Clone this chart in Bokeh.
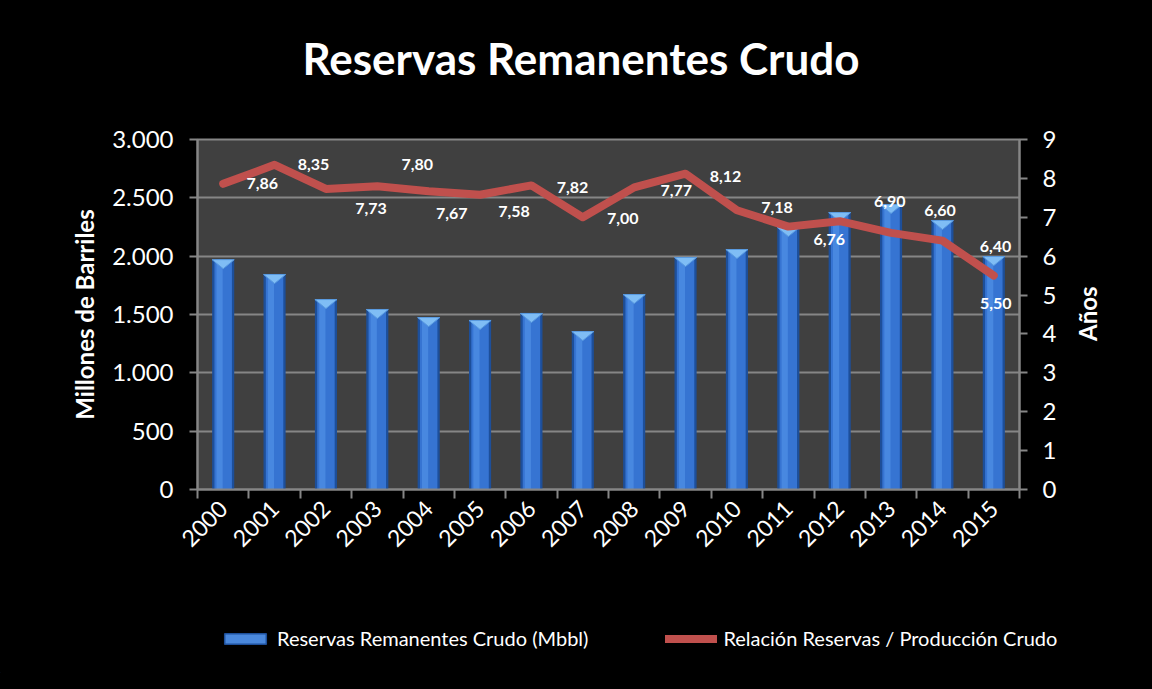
import math
from bokeh.plotting import figure
from bokeh.layouts import column, row
from bokeh.models import (Range1d, LinearAxis, FixedTicker, Legend, LegendItem,
                          ColumnDataSource, Label)
from bokeh.embed import file_html
from bokeh.resources import INLINE
from bokeh.core.properties import value

# ---------------- data ----------------
years = ["2000", "2001", "2002", "2003", "2004", "2005", "2006", "2007",
         "2008", "2009", "2010", "2011", "2012", "2013", "2014", "2015"]
reservas = [1970, 1843, 1628, 1543, 1474, 1449, 1509, 1354,
            1671, 1989, 2057, 2246, 2374, 2443, 2306, 1997]
relacion = [7.86, 8.35, 7.73, 7.80, 7.67, 7.58, 7.82, 7.00,
            7.77, 8.12, 7.18, 6.76, 6.90, 6.60, 6.40, 5.50]
relacion_labels = ["7,86", "8,35", "7,73", "7,80", "7,67", "7,58", "7,82", "7,00",
                   "7,77", "8,12", "7,18", "6,76", "6,90", "6,60", "6,40", "5,50"]
left_ticks = [0, 500, 1000, 1500, 2000, 2500, 3000]
left_tick_labels = ["0", "500", "1.000", "1.500", "2.000", "2.500", "3.000"]
right_ticks = [0, 1, 2, 3, 4, 5, 6, 7, 8, 9]
title_text = "Reservas Remanentes Crudo"
left_axis_title = "Millones de Barriles"
right_axis_title = "Años"
series_names = ["Reservas Remanentes Crudo (Mbbl)", "Relación Reservas / Producción Crudo"]

# label placement offsets (screen px)
lbl_dx = [39, 39, 45, 40, 23, 34, 41, 40, 42, 40, 40, 41, 50, 49, 53, 2]
lbl_dy = [0, 0, 20, -22, 22, 17, 2, 1, 3, 3, -3, 13, -20, -22, 6, 28]

FONT = "Lato"
GRAY = "#868686"
BAR_DARK = "#1d4f9a"
BAR_MID = "#3674d2"
LINE_RED = "#c0504d"
W = 1136
PW = 1059        # width of the main chart figure
RW = W - PW      # width of the strip holding the right axis title
MAIN_H = 480


def strip(width, height):
    f = figure(width=width, height=height, x_range=Range1d(0, 1), y_range=Range1d(0, 1),
               x_axis_location=None, y_axis_location=None, min_border=0,
               output_backend="svg", toolbar_location=None)
    f.frame_align = False
    f.background_fill_color = "black"
    f.border_fill_color = "black"
    f.outline_line_color = "black"
    f.outline_line_width = 2
    f.grid.visible = False
    return f


# ---------------- title strip ----------------
tfig = strip(W, 100)
tfig.add_layout(Label(x=0.511, y=0.43, text=title_text, text_align="center",
                      text_baseline="middle", text_color="white",
                      text_font=FONT, text_font_size="44px", text_font_style="bold"))

# ---------------- main chart ----------------
xs = list(range(len(years)))
src = ColumnDataSource(dict(x=xs, reservas=reservas, relacion=relacion,
                            lbl=relacion_labels, dx=lbl_dx, dy=lbl_dy,
                            xh=[i - 0.07 for i in xs]))

p = figure(width=PW, height=MAIN_H,
           min_border_left=197, min_border_right=37,
           min_border_top=39, min_border_bottom=91,
           x_range=Range1d(-0.5, len(years) - 0.5), y_range=Range1d(0, 3000),
           output_backend="svg", toolbar_location=None)
p.frame_align = False
p.extra_y_ranges = {"right": Range1d(0, 9)}

p.background_fill_color = "#404040"
p.border_fill_color = "black"
p.outline_line_color = GRAY
p.outline_line_width = 2

p.xgrid.visible = False
p.ygrid.ticker = FixedTicker(ticks=left_ticks)
p.ygrid.grid_line_color = GRAY
p.ygrid.grid_line_width = 2

# bars (layered for a cylinder look)
p.vbar(x="x", top="reservas", width=0.43, source=src,
       fill_color=BAR_DARK, line_color=None)
p.vbar(x="x", top="reservas", width=0.34, source=src,
       fill_color=BAR_MID, line_color=None)
p.vbar(x="xh", top="reservas", width=0.12, source=src,
       fill_color="#4d8de4", line_color=None, fill_alpha=0.8)
cap_h = 9 / (350 / 3000)
p.patches(xs=[[i - 0.215, i + 0.215, i] for i in xs],
          ys=[[v, v, v - cap_h] for v in reservas],
          fill_color="#7fbdf5", line_color="#5a9be0", line_width=1)

# line
p.line(x="x", y="relacion", source=src, y_range_name="right",
       line_color=LINE_RED, line_width=8, line_cap="round", line_join="round")

# data labels
p.text(x="x", y="relacion", text="lbl", source=src, y_range_name="right",
       x_offset="dx", y_offset="dy", text_align="center", text_baseline="middle",
       text_color="white", text_font=value(FONT), text_font_style="bold",
       text_font_size="16px")

ya = p.yaxis[0]
ya.ticker = FixedTicker(ticks=left_ticks)
ya.major_label_overrides = {t: l for t, l in zip(left_ticks, left_tick_labels)}
ya.axis_label = left_axis_title
ya.axis_label_text_color = "white"
ya.axis_label_text_font = FONT
ya.axis_label_text_font_size = "24px"
ya.axis_label_text_font_style = "bold"
ya.axis_label_standoff = 10

ra = LinearAxis(y_range_name="right", ticker=FixedTicker(ticks=right_ticks))
p.add_layout(ra, "right")

for ax in [ya, ra]:
    ax.axis_line_color = GRAY
    ax.axis_line_width = 2
    ax.major_tick_line_color = GRAY
    ax.major_tick_line_width = 2
    ax.major_tick_out = 8
    ax.major_tick_in = 0
    ax.minor_tick_line_color = None
    ax.major_label_text_color = "white"
    ax.major_label_text_font = FONT
    ax.major_label_text_font_size = "24px"
ya.major_label_standoff = 16
ra.major_label_standoff = 15

xa = p.xaxis[0]
xa.ticker = FixedTicker(ticks=xs, minor_ticks=[i - 0.5 for i in range(len(years) + 1)])
xa.major_label_overrides = {i: y for i, y in enumerate(years)}
xa.major_label_orientation = math.pi / 4
xa.major_tick_out = 0
xa.major_tick_in = 0
xa.minor_tick_out = 9
xa.minor_tick_in = 0
xa.minor_tick_line_color = GRAY
xa.minor_tick_line_width = 2
xa.axis_line_color = GRAY
xa.axis_line_width = 2
xa.major_label_text_color = "white"
xa.major_label_text_font = FONT
xa.major_label_text_font_size = "23px"
xa.major_label_standoff = 6

# right axis title strip (reads bottom-to-top)
rfig = strip(RW, MAIN_H)
rfig.add_layout(Label(x=28 / RW, y=0.556, text=right_axis_title, angle=math.pi / 2,
                      text_align="center", text_baseline="middle", text_color="white",
                      text_font=FONT, text_font_size="24px", text_font_style="bold"))

# ---------------- legend strip ----------------
lfig = strip(W, 93)
# off-screen sample glyphs, used only to draw the legend swatches
lb = lfig.vbar(x=[-5], top=[-5], width=0.5, fill_color="#4a88dc", line_color=BAR_DARK,
               line_width=1.5)
ll = lfig.line(x=[-5, -4], y=[-5, -5], line_color=LINE_RED, line_width=8, line_cap="round")
legend = Legend(items=[LegendItem(label=series_names[0], renderers=[lb]),
                       LegendItem(label=series_names[1], renderers=[ll])],
                orientation="horizontal", location=(219, 23),
                background_fill_alpha=0, border_line_alpha=0,
                label_text_color="white", label_text_font=FONT,
                label_text_font_size="20px", spacing=77,
                glyph_width=52, glyph_height=13, label_standoff=6,
                padding=0, margin=0)
lfig.add_layout(legend, "center")

layout = column(tfig, row(p, rfig, spacing=0), lfig, spacing=0)
html = file_html(layout, INLINE)
html = html.replace("</head>", "<style>html, body { background-color: #000; }</style></head>", 1)
open("out.html", "w").write(html)
